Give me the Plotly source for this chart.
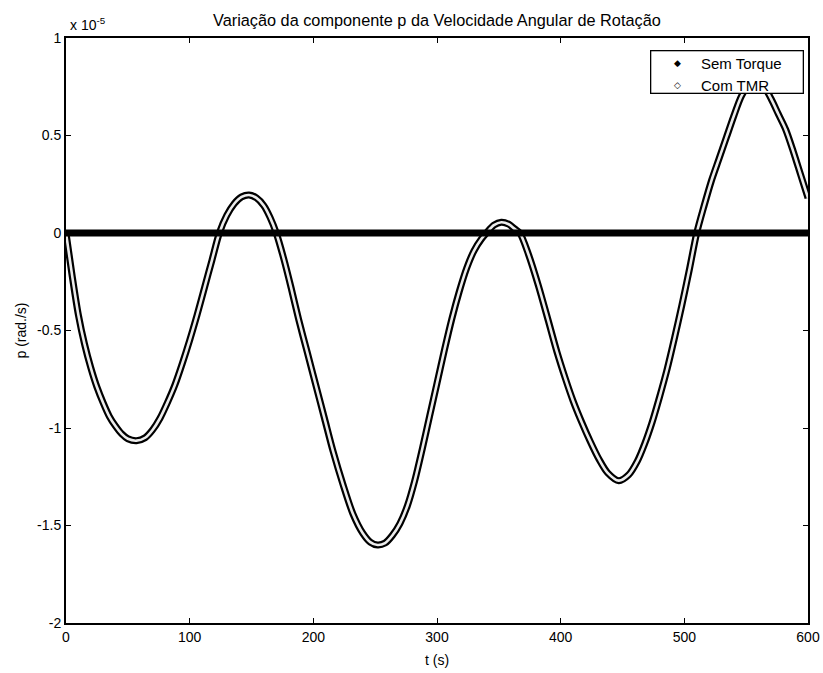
import plotly.graph_objects as go

# Time instants (s) and angular-velocity component p (units of 1e-5 rad/s) with MTR torque
t_com = [0, 5, 10, 15, 20, 25, 30, 35, 40, 45, 50, 57, 64, 70, 76, 82, 88, 94, 100, 106,
         112, 118, 124, 130, 136, 142, 148, 154, 160, 165, 170, 176, 182, 188, 195, 202,
         209, 216, 224, 232, 240, 246, 252, 258, 264, 270, 276, 282, 288, 294, 300, 306,
         312, 318, 324, 330, 336, 340, 346, 352, 358, 363, 367, 374, 382, 390, 397, 404,
         410, 417, 424, 431, 438, 447, 455, 462, 468, 474, 480, 486, 492, 498, 504, 510,
         516, 522, 528, 534, 540, 546, 552, 557, 564, 570, 576, 582, 588, 594, 600]
p_com = [0.0, -0.22, -0.42, -0.57, -0.69, -0.79, -0.87, -0.94, -0.99, -1.03, -1.055, -1.065,
         -1.05, -1.01, -0.95, -0.87, -0.78, -0.67, -0.55, -0.42, -0.28, -0.14, 0.0, 0.09,
         0.15, 0.185, 0.195, 0.18, 0.14, 0.08, 0.0, -0.13, -0.28, -0.44, -0.61, -0.78,
         -0.95, -1.12, -1.29, -1.44, -1.54, -1.585, -1.60, -1.59, -1.55, -1.49, -1.40,
         -1.27, -1.11, -0.94, -0.77, -0.60, -0.44, -0.30, -0.18, -0.09, -0.03, 0.0, 0.04,
         0.055, 0.045, 0.02, 0.0, -0.11, -0.27, -0.45, -0.61, -0.75, -0.86, -0.97, -1.07,
         -1.16, -1.23, -1.27, -1.24, -1.17, -1.08, -0.97, -0.84, -0.70, -0.54, -0.37, -0.19,
         0.0, 0.14, 0.27, 0.38, 0.49, 0.60, 0.70, 0.76, 0.78, 0.755, 0.69, 0.61, 0.53, 0.42,
         0.30, 0.18]

# Torque-free case: p stays at zero over the whole run
t_sem = [0, 600]
p_sem = [0.0, 0.0]

x_ticks = [0, 100, 200, 300, 400, 500, 600]
y_ticks = [1, 0.5, 0, -0.5, -1, -1.5, -2]
y_tick_text = ["1", "0.5", "0", "-0.5", "-1", "-1.5", "-2"]

legend_names = ["Sem Torque", "Com TMR"]
legend_glyphs = ["◆", "◇"]

FONT = "Liberation Sans, Arial, Helvetica, sans-serif"

fig = go.Figure()

# "Com TMR": hollow tube look (dark outline with light core)
fig.add_trace(go.Scatter(x=t_com, y=p_com, mode="lines",
                         line=dict(color="black", width=7, shape="spline", smoothing=0.8),
                         hoverinfo="skip"))
fig.add_trace(go.Scatter(x=t_com, y=p_com, mode="lines",
                         line=dict(color="#ececec", width=2.6, shape="spline", smoothing=0.8),
                         hoverinfo="skip"))
# "Sem Torque": thick black line at zero
fig.add_trace(go.Scatter(x=t_sem, y=p_sem, mode="lines", line=dict(color="black", width=7),
                         hoverinfo="skip"))

axis_common = dict(showline=True, linecolor="black", linewidth=2, mirror="ticks",
                   ticks="inside", ticklen=5, tickwidth=1.3, tickcolor="black",
                   showgrid=False, zeroline=False, automargin=False,
                   tickfont=dict(family=FONT, size=14, color="black"))

fig.update_layout(
    width=823, height=673,
    margin=dict(l=66, r=15, t=38, b=50),
    paper_bgcolor="white", plot_bgcolor="white",
    font=dict(family=FONT, color="black"),
    xaxis=dict(range=[0, 600], tickvals=x_ticks, **axis_common),
    yaxis=dict(range=[-2, 1], tickvals=y_ticks, ticktext=y_tick_text, **axis_common),
    showlegend=False,
)

# Legend: an opaque framed box over the upper-right corner, then its entries
fig.add_annotation(text=" ", xref="paper", yref="paper", x=0.995, y=0.979,
                   xanchor="right", yanchor="top", width=151, height=41, borderpad=0,
                   bgcolor="white", bordercolor="black", borderwidth=1.3, showarrow=False)
for i, (name, glyph) in enumerate(zip(legend_names, legend_glyphs)):
    y_item = 0.957 - i * 0.0376
    fig.add_annotation(text=glyph, xref="paper", yref="paper", x=0.8235, y=y_item,
                       xanchor="center", yanchor="middle", showarrow=False,
                       font=dict(family="DejaVu Sans", size=9, color="black"))
    fig.add_annotation(text=name, xref="paper", yref="paper", x=0.853, y=y_item,
                       xanchor="left", yanchor="middle", showarrow=False,
                       font=dict(family=FONT, size=15, color="black"))

fig.add_annotation(text="Variação da componente p da Velocidade Angular de Rotação",
                   xref="paper", yref="paper", x=0.5, y=1, yshift=7, yanchor="bottom",
                   showarrow=False, font=dict(family=FONT, size=16.3, color="black"))
fig.add_annotation(text="x 10<sup>-5</sup>", xref="paper", yref="paper", x=0, y=1,
                   xanchor="left", yanchor="bottom", xshift=2, yshift=3, showarrow=False,
                   font=dict(family=FONT, size=14, color="black"))
fig.add_annotation(text="t (s)", xref="paper", yref="paper", x=0.5, y=0, yshift=-27,
                   yanchor="top", showarrow=False, font=dict(family=FONT, size=14, color="black"))
fig.add_annotation(text="p (rad./s)", xref="paper", yref="paper", x=0, y=0.5, xshift=-46,
                   xanchor="center", yanchor="middle", textangle=-90, showarrow=False,
                   font=dict(family=FONT, size=14, color="black"))

fig.write_html("out.html")
